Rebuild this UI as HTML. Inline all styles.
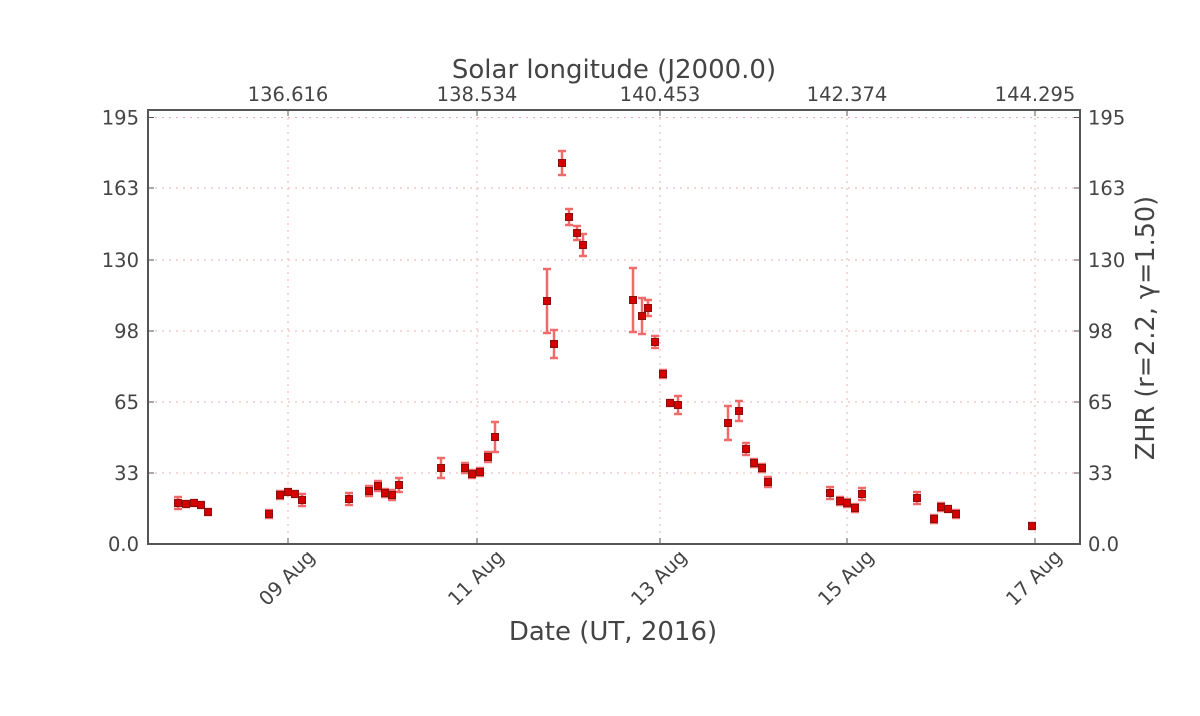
<!DOCTYPE html>
<html><head><meta charset="utf-8"><style>
html,body{margin:0;padding:0;background:#fff;}
svg text{font-family:"DejaVu Sans","Liberation Sans",sans-serif;fill:#444;}
</style></head><body>
<svg id="s" width="1200" height="711" xmlns="http://www.w3.org/2000/svg">
<g id="grid" stroke="#e8b0b0" stroke-width="1" stroke-dasharray="2,5"></g>
<g id="err" stroke="#f06a6a" stroke-width="2.5"></g>
<g id="pts" fill="#d40000" stroke="#8a1010" stroke-width="1"></g>
<rect x="148" y="110" width="932" height="434" fill="none" stroke="#555" stroke-width="2"/>
<g id="ticks" stroke="#555" stroke-width="1"></g>
<g id="lab" font-size="19.5"></g>
<text x="614" y="78" font-size="26" text-anchor="middle">Solar longitude (J2000.0)</text>
<text x="613" y="640" font-size="26" text-anchor="middle">Date (UT, 2016)</text>
<text transform="translate(1154,328) rotate(-90)" font-size="25.5" text-anchor="middle">ZHR (r=2.2, γ=1.50)</text>
</svg>
<script>
const NS="http://www.w3.org/2000/svg";
function el(p,t,a,txt){const e=document.createElementNS(NS,t);for(const k in a)e.setAttribute(k,a[k]);if(txt!==undefined)e.textContent=txt;document.getElementById(p).appendChild(e);}
const yv=[["195",117.5],["163",188],["130",260],["98",331],["65",402],["33",473],["0.0",544]];
const xs=[288,477,660,847,1035];
const dl=["09 Aug","11 Aug","13 Aug","15 Aug","17 Aug"];
const tl=["136.616","138.534","140.453","142.374","144.295"];
yv.forEach(([t,y])=>{
 if(y>112&&y<543)el("grid","line",{x1:148,x2:1080,y1:y,y2:y});
 el("ticks","line",{x1:148,x2:154,y1:y,y2:y});el("ticks","line",{x1:1074,x2:1080,y1:y,y2:y});
 el("lab","text",{x:139,y:y+7,"text-anchor":"end"},t);
 el("lab","text",{x:1088,y:y+7},t);
});
xs.forEach((x,i)=>{
 el("grid","line",{x1:x,x2:x,y1:111,y2:543});
 el("ticks","line",{x1:x,x2:x,y1:538,y2:544});el("ticks","line",{x1:x,x2:x,y1:110,y2:116});
 el("lab","text",{x:x,y:101,"text-anchor":"middle"},tl[i]);
 el("lab","text",{x:0,y:0,"text-anchor":"end",transform:`translate(${x+28},${558}) rotate(-45)`},dl[i]);
});
const d=[[178,503,6],[186,504,3],[194,503,3],[201,505,3],[208,512,3],
[269,514,4],[280,495,4],[288,492,3],[295,494,3],[302,500,6],
[349,499,6],[369,491,5],[378,486,5],[385,493,4],[392,495,5],[399,485,7],
[441,468,10],[465,468,5],[472,474,4],[480,472,4],[488,457,5],[495,437,15],
[547,301,32],[554,344,14],[562,163,12],[569,217,8],[577,233,7],[583,245,11],
[633,300,32],[642,316,18],[648,308,8],[655,342,6],[663,374,4],[670,403,3],[678,405,9],
[728,423,17],[739,411,10],[746,449,6],[754,463,4],[762,468,4],[768,482,5],
[830,493,6],[840,501,4],[847,503,4],[855,508,4],[862,494,6],
[917,498,6],[934,519,4],[941,507,4],[948,509,3],[956,514,4],[1032,526,3]];
d.forEach(([x,y,e])=>{
 el("err","line",{x1:x,x2:x,y1:y-e,y2:y+e});
 el("err","line",{x1:x-4,x2:x+4,y1:y-e,y2:y-e});
 el("err","line",{x1:x-4,x2:x+4,y1:y+e,y2:y+e});
 el("pts","rect",{x:x-3.5,y:y-3.5,width:7,height:7});
});
</script>
</body></html>
